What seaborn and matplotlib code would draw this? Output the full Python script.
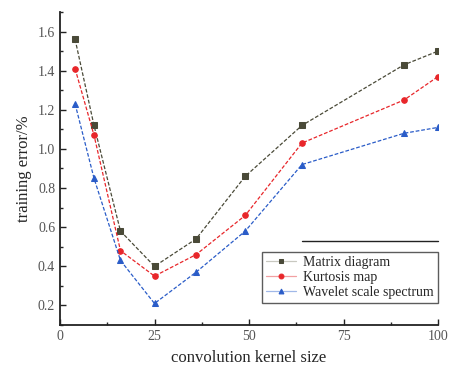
import numpy as np
import pandas as pd
import matplotlib
matplotlib.use("Agg")
import matplotlib.pyplot as plt
import seaborn as sns
from matplotlib.ticker import MultipleLocator, FormatStrFormatter

kernel_size = [4, 9, 16, 25, 36, 49, 64, 91, 100]
matrix_diagram = [1.56, 1.12, 0.58, 0.40, 0.54, 0.86, 1.12, 1.43, 1.50]
kurtosis_map = [1.41, 1.07, 0.48, 0.35, 0.46, 0.66, 1.03, 1.25, 1.37]
wavelet_spectrum = [1.23, 0.85, 0.43, 0.21, 0.37, 0.58, 0.92, 1.08, 1.11]
series_names = ["Matrix diagram", "Kurtosis map", "Wavelet scale spectrum"]

sns.set_style("ticks")
plt.rcParams["font.family"] = ["Liberation Serif", "DejaVu Serif"]

fig = plt.figure(figsize=(4.49, 3.70), dpi=100)
ax = fig.add_axes([0.1336, 0.1216, 0.842, 0.846])

colors = ["#4a4a38", "#e8262a", "#2a5cc8"]
light_colors = ["#c8c8c0", "#f2a0a2", "#a0b8e8"]
markers = ["s", "o", "^"]
values = [matrix_diagram, kurtosis_map, wavelet_spectrum]

for name, vals, c, m in zip(series_names, values, colors, markers):
    df = pd.DataFrame({"x": kernel_size, "y": vals})
    sns.lineplot(data=df, x="x", y="y", ax=ax, color=c, marker=m,
                 markersize=4, markeredgecolor=c, linewidth=0.9,
                 label=name)

for line in ax.lines:
    line.set_linestyle((0, (3, 1.5)))

ax.set_xlim(0, 100)
ax.set_ylim(0.1, 1.7)
ax.xaxis.set_major_locator(MultipleLocator(25))
ax.xaxis.set_minor_locator(MultipleLocator(12.5))
ax.yaxis.set_minor_locator(MultipleLocator(0.1))
ax.set_yticks(np.arange(0.2, 1.61, 0.2))
ax.yaxis.set_major_formatter(FormatStrFormatter("%.1f"))
ax.tick_params(which="major", direction="in", length=4, width=1.0,
               labelsize=10, colors="#222222", labelcolor="#555555")
ax.tick_params(which="minor", direction="in", length=2, width=1.0)
for s in ["top", "right"]:
    ax.spines[s].set_visible(False)
for s in ["left", "bottom"]:
    ax.spines[s].set_linewidth(1.3)
    ax.spines[s].set_color("#222222")

ax.set_xlabel("convolution kernel size", fontsize=12, labelpad=5)
ax.set_ylabel("training error/%", fontsize=12, labelpad=4)

handles, labels = ax.get_legend_handles_labels()
leg = ax.legend(handles, labels, loc="lower right", bbox_to_anchor=(1.0, 0.07),
                fontsize=10, frameon=True, fancybox=False, edgecolor="#333333",
                borderpad=0.3, labelspacing=0.15, handlelength=2.2,
                handletextpad=0.5, borderaxespad=0)
leg.get_frame().set_linewidth(1.0)
for lh, c, lc in zip(leg.legend_handles, colors, light_colors):
    lh.set_linestyle("-")
    lh.set_color(lc)
    lh.set_markerfacecolor(c)
    lh.set_markeredgecolor(c)
    lh.set_markersize(3.5)

ax.plot([0.64, 1.0], [0.268, 0.268], transform=ax.transAxes, color="#222222",
        linewidth=1.0, clip_on=False)

fig.savefig("out.png", dpi=100)
